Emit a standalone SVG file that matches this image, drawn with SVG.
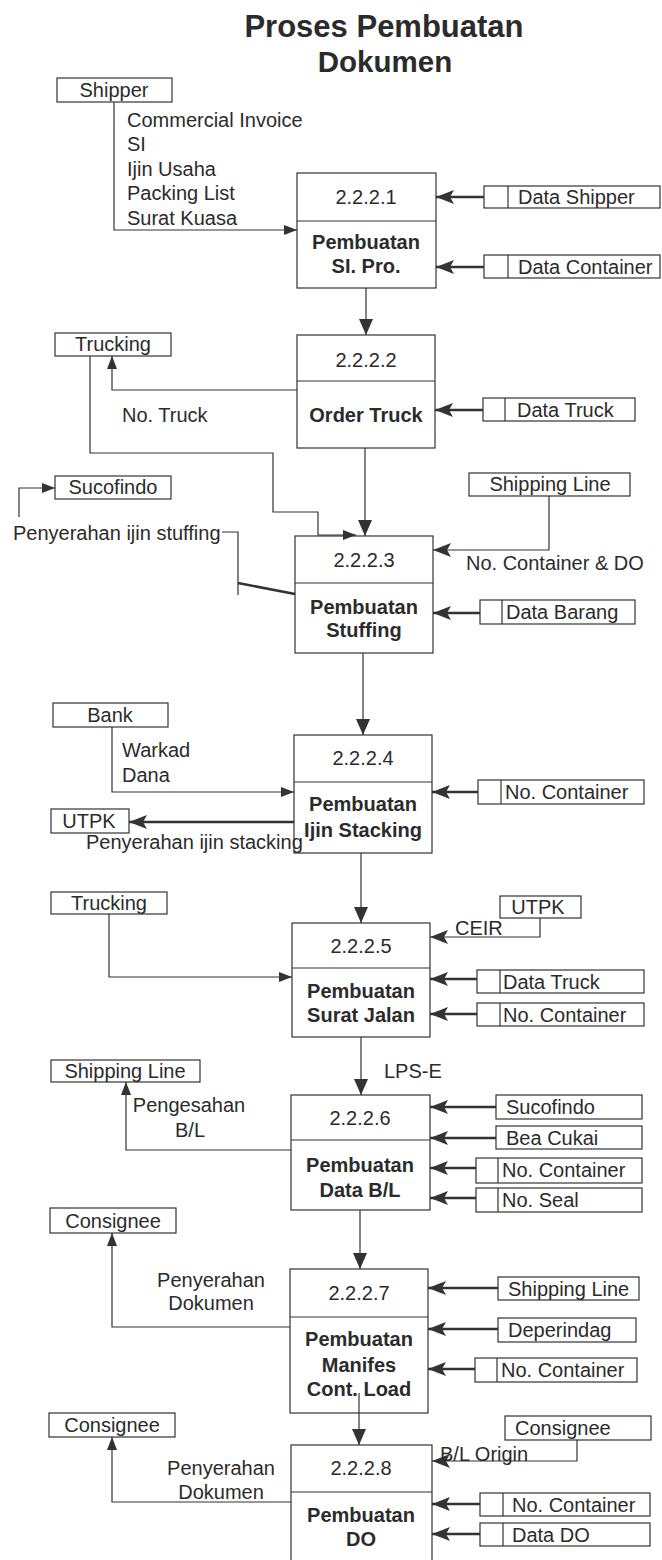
<svg xmlns="http://www.w3.org/2000/svg" width="662" height="1560" viewBox="0 0 662 1560">
<defs>
<style>
text{font-family:"Liberation Sans",Arial,sans-serif;font-size:20px;fill:#2b2b2b}
.t{font-weight:bold;font-size:31px;text-anchor:middle}
.c{text-anchor:middle}
.b{font-weight:bold;text-anchor:middle}
.box{fill:none;stroke:#333;stroke-width:1.2}
.ln{fill:none;stroke:#333;stroke-width:1.2}
.thin{fill:none;stroke:#333;stroke-width:1.2;marker-end:url(#ah)}
.flow{fill:none;stroke:#333;stroke-width:1.2;marker-end:url(#ad)}
.thick{fill:none;stroke:#333;stroke-width:2.6;marker-end:url(#ab)}
.rt{fill:none;stroke:#333;stroke-width:1.2;marker-end:url(#ab)}
</style>
<marker id="ah" markerUnits="userSpaceOnUse" markerWidth="13" markerHeight="10" refX="13" refY="5" orient="auto"><path d="M0,0 L13,5 L0,10 z" fill="#333"/></marker>
<marker id="ab" markerUnits="userSpaceOnUse" markerWidth="18" markerHeight="14" refX="18" refY="7" orient="auto"><path d="M0,0 L18,7 L0,14 L4,7 z" fill="#333"/></marker>
<marker id="ad" markerUnits="userSpaceOnUse" markerWidth="16" markerHeight="14" refX="16" refY="7" orient="auto"><path d="M0,0 L16,7 L0,14 z" fill="#333"/></marker>
</defs>
<rect width="662" height="1560" fill="#fff"/>

<g id="title">
<text class="t" x="384" y="37">Proses Pembuatan</text>
<text class="t" x="385" y="72" style="font-size:29.5px">Dokumen</text>
</g>

<g id="connectors">
<!-- main flow -->
<line class="flow" x1="366" y1="288" x2="366" y2="335"/>
<line class="flow" x1="365" y1="448" x2="365" y2="536"/>
<line class="flow" x1="363" y1="653" x2="363" y2="735"/>
<line class="flow" x1="361" y1="853" x2="361" y2="923"/>
<line class="flow" x1="361" y1="1037" x2="361" y2="1095"/>
<line class="flow" x1="360" y1="1210" x2="360" y2="1269"/>
<line class="flow" x1="359" y1="1393" x2="359" y2="1445"/>
<!-- P1 -->
<path class="thin" d="M114,102 V230 H297"/>
<line class="thick" x1="484" y1="197" x2="436" y2="197"/>
<line class="thick" x1="484" y1="267" x2="436" y2="267"/>
<!-- P2 -->
<path class="thin" d="M297,390 H112 V356"/>
<line class="thick" x1="483" y1="410" x2="435" y2="410"/>
<!-- P3 -->
<path class="thin" d="M90,356 V453 H273 V512 H318 V535 H356"/>
<path class="thin" d="M19,517 V488 H55"/>
<path class="ln" d="M222,532 H238 V595"/>
<line class="ln" x1="238" y1="583" x2="295" y2="594" style="stroke-width:2.6"/>
<path class="rt" d="M549,496 V550 H433"/>
<line class="thick" x1="480" y1="613" x2="433" y2="613"/>
<!-- P4 -->
<path class="thin" d="M112,727 V792 H294"/>
<line class="thick" x1="478" y1="792" x2="432" y2="792"/>
<line class="thick" x1="294" y1="822" x2="129" y2="822"/>
<!-- P5 -->
<path class="thin" d="M109,914 V977 H292"/>
<path class="rt" d="M540,918 V937 H430"/>
<line class="thick" x1="477" y1="979" x2="430" y2="979"/>
<line class="thick" x1="477" y1="1014" x2="430" y2="1014"/>
<!-- P6 -->
<path class="thin" d="M291,1150 H126 V1082"/>
<line class="thick" x1="496" y1="1107" x2="430" y2="1107"/>
<line class="thick" x1="496" y1="1138" x2="430" y2="1138"/>
<line class="thick" x1="476" y1="1168" x2="430" y2="1168"/>
<line class="thick" x1="476" y1="1198" x2="430" y2="1198"/>
<!-- P7 -->
<path class="thin" d="M290,1327 H112 V1233"/>
<line class="thick" x1="498" y1="1288" x2="428" y2="1288"/>
<line class="thick" x1="498" y1="1329" x2="428" y2="1329"/>
<line class="thick" x1="475" y1="1369" x2="428" y2="1369"/>
<!-- P8 -->
<path class="thin" d="M291,1502 H112 V1437"/>
<path class="rt" d="M577,1440 V1461 H432"/>
<line class="thick" x1="480" y1="1504" x2="432" y2="1504"/>
<line class="thick" x1="480" y1="1534" x2="432" y2="1534"/>
</g>

<g id="labels">
<text x="127" y="127">Commercial Invoice</text>
<text x="127" y="151">SI</text>
<text x="127" y="176">Ijin Usaha</text>
<text x="127" y="200">Packing List</text>
<text x="127" y="225">Surat Kuasa</text>
<text x="122" y="422">No. Truck</text>
<text x="13" y="540">Penyerahan ijin stuffing</text>
<text x="466" y="570">No. Container &amp; DO</text>
<text x="122" y="757">Warkad</text>
<text x="122" y="782">Dana</text>
<text x="86" y="849">Penyerahan ijin stacking</text>
<text x="455" y="935">CEIR</text>
<text x="384" y="1078">LPS-E</text>
<text class="c" x="189" y="1112">Pengesahan</text>
<text class="c" x="190" y="1137">B/L</text>
<text class="c" x="211" y="1287">Penyerahan</text>
<text class="c" x="211" y="1310">Dokumen</text>
<text class="c" x="221" y="1475">Penyerahan</text>
<text class="c" x="221" y="1499">Dokumen</text>
<text x="440" y="1461">B/L Origin</text>
</g>

<g id="p1"><rect class="box" x="297" y="173" width="139" height="115"/><line class="ln" x1="297" y1="221" x2="436" y2="221"/>
<text class="c" x="366" y="204">2.2.2.1</text><text class="b" x="366" y="249">Pembuatan</text><text class="b" x="366" y="273">SI. Pro.</text></g>
<g id="p2"><rect class="box" x="297" y="335" width="138" height="113"/><line class="ln" x1="297" y1="381" x2="435" y2="381"/>
<text class="c" x="366" y="367">2.2.2.2</text><text class="b" x="366" y="422">Order Truck</text></g>
<g id="p3"><rect class="box" x="295" y="536" width="138" height="117"/><line class="ln" x1="295" y1="583" x2="433" y2="583"/>
<text class="c" x="364" y="567">2.2.2.3</text><text class="b" x="364" y="614">Pembuatan</text><text class="b" x="364" y="637">Stuffing</text></g>
<g id="p4"><rect class="box" x="294" y="735" width="138" height="118"/><line class="ln" x1="294" y1="782" x2="432" y2="782"/>
<text class="c" x="363" y="765">2.2.2.4</text><text class="b" x="363" y="811">Pembuatan</text><text class="b" x="363" y="837">Ijin Stacking</text></g>
<g id="p5"><rect class="box" x="292" y="923" width="138" height="114"/><line class="ln" x1="292" y1="968" x2="430" y2="968"/>
<text class="c" x="361" y="953">2.2.2.5</text><text class="b" x="361" y="998">Pembuatan</text><text class="b" x="361" y="1022">Surat Jalan</text></g>
<g id="p6"><rect class="box" x="291" y="1095" width="139" height="115"/><line class="ln" x1="291" y1="1140" x2="430" y2="1140"/>
<text class="c" x="360" y="1125">2.2.2.6</text><text class="b" x="360" y="1172">Pembuatan</text><text class="b" x="360" y="1197">Data B/L</text></g>
<g id="p7"><rect class="box" x="290" y="1269" width="138" height="144"/><line class="ln" x1="290" y1="1317" x2="428" y2="1317"/>
<text class="c" x="359" y="1300">2.2.2.7</text><text class="b" x="359" y="1346">Pembuatan</text><text class="b" x="359" y="1372">Manifes</text><text class="b" x="359" y="1396">Cont. Load</text></g>
<g id="p8"><rect class="box" x="291" y="1445" width="141" height="130"/><line class="ln" x1="291" y1="1492" x2="432" y2="1492"/>
<text class="c" x="361" y="1475">2.2.2.8</text><text class="b" x="361" y="1522">Pembuatan</text><text class="b" x="361" y="1546">DO</text></g>

<g id="shipper"><rect class="box" x="57" y="78" width="115" height="24"/><text class="c" x="114" y="97">Shipper</text></g>
<g id="trucking1"><rect class="box" x="55" y="333" width="116" height="23"/><text class="c" x="113" y="351">Trucking</text></g>
<g id="sucofindo1"><rect class="box" x="55" y="476" width="116" height="23"/><text class="c" x="113" y="494">Sucofindo</text></g>
<g id="shippingline1"><rect class="box" x="469" y="473" width="161" height="23"/><text class="c" x="550" y="491">Shipping Line</text></g>
<g id="bank"><rect class="box" x="53" y="703" width="115" height="24"/><text class="c" x="110" y="722">Bank</text></g>
<g id="utpk1"><rect class="box" x="51" y="809" width="78" height="24"/><text class="c" x="89" y="828">UTPK</text></g>
<g id="trucking2"><rect class="box" x="51" y="892" width="116" height="22"/><text class="c" x="109" y="910">Trucking</text></g>
<g id="utpk2"><rect class="box" x="500" y="896" width="81" height="22"/><text class="c" x="538" y="914">UTPK</text></g>
<g id="shippingline2"><rect class="box" x="51" y="1060" width="149" height="22"/><text class="c" x="125" y="1078">Shipping Line</text></g>
<g id="sucofindo2"><rect class="box" x="496" y="1095" width="146" height="24"/><text x="506" y="1114">Sucofindo</text></g>
<g id="beacukai"><rect class="box" x="496" y="1126" width="146" height="23"/><text x="506" y="1145">Bea Cukai</text></g>
<g id="consignee1"><rect class="box" x="50" y="1208" width="126" height="25"/><text class="c" x="113" y="1228">Consignee</text></g>
<g id="shippingline3"><rect class="box" x="498" y="1277" width="141" height="23"/><text x="508" y="1296">Shipping Line</text></g>
<g id="deperindag"><rect class="box" x="498" y="1318" width="138" height="24"/><text x="508" y="1337">Deperindag</text></g>
<g id="consignee2"><rect class="box" x="49" y="1413" width="126" height="24"/><text class="c" x="112" y="1432">Consignee</text></g>
<g id="consignee3"><rect class="box" x="505" y="1416" width="146" height="24"/><text x="515" y="1435">Consignee</text></g>

<g id="ds-datashipper"><rect class="box" x="484" y="186" width="176" height="22"/><line class="ln" x1="508" y1="186" x2="508" y2="208"/><text x="518" y="204">Data Shipper</text></g>
<g id="ds-datacontainer"><rect class="box" x="484" y="255" width="176" height="23"/><line class="ln" x1="508" y1="255" x2="508" y2="278"/><text x="518" y="274">Data Container</text></g>
<g id="ds-datatruck1"><rect class="box" x="483" y="398" width="152" height="23"/><line class="ln" x1="505" y1="398" x2="505" y2="421"/><text x="517" y="417">Data Truck</text></g>
<g id="ds-databarang"><rect class="box" x="480" y="600" width="155" height="24"/><line class="ln" x1="502" y1="600" x2="502" y2="624"/><text x="506" y="619">Data Barang</text></g>
<g id="ds-nocontainer4"><rect class="box" x="478" y="780" width="166" height="24"/><line class="ln" x1="501" y1="780" x2="501" y2="804"/><text x="505" y="799">No. Container</text></g>
<g id="ds-datatruck5"><rect class="box" x="477" y="970" width="167" height="23"/><line class="ln" x1="500" y1="970" x2="500" y2="993"/><text x="503" y="989">Data Truck</text></g>
<g id="ds-nocontainer5"><rect class="box" x="477" y="1003" width="167" height="23"/><line class="ln" x1="500" y1="1003" x2="500" y2="1026"/><text x="503" y="1022">No. Container</text></g>
<g id="ds-nocontainer6"><rect class="box" x="476" y="1158" width="166" height="25"/><line class="ln" x1="498" y1="1158" x2="498" y2="1183"/><text x="502" y="1177">No. Container</text></g>
<g id="ds-noseal"><rect class="box" x="476" y="1188" width="166" height="24"/><line class="ln" x1="498" y1="1188" x2="498" y2="1212"/><text x="502" y="1207">No. Seal</text></g>
<g id="ds-nocontainer7"><rect class="box" x="475" y="1358" width="162" height="24"/><line class="ln" x1="497" y1="1358" x2="497" y2="1382"/><text x="501" y="1377">No. Container</text></g>
<g id="ds-nocontainer8"><rect class="box" x="480" y="1493" width="170" height="23"/><line class="ln" x1="503" y1="1493" x2="503" y2="1516"/><text x="512" y="1512">No. Container</text></g>
<g id="ds-datado"><rect class="box" x="480" y="1523" width="170" height="23"/><line class="ln" x1="503" y1="1523" x2="503" y2="1546"/><text x="512" y="1542">Data DO</text></g>
</svg>
